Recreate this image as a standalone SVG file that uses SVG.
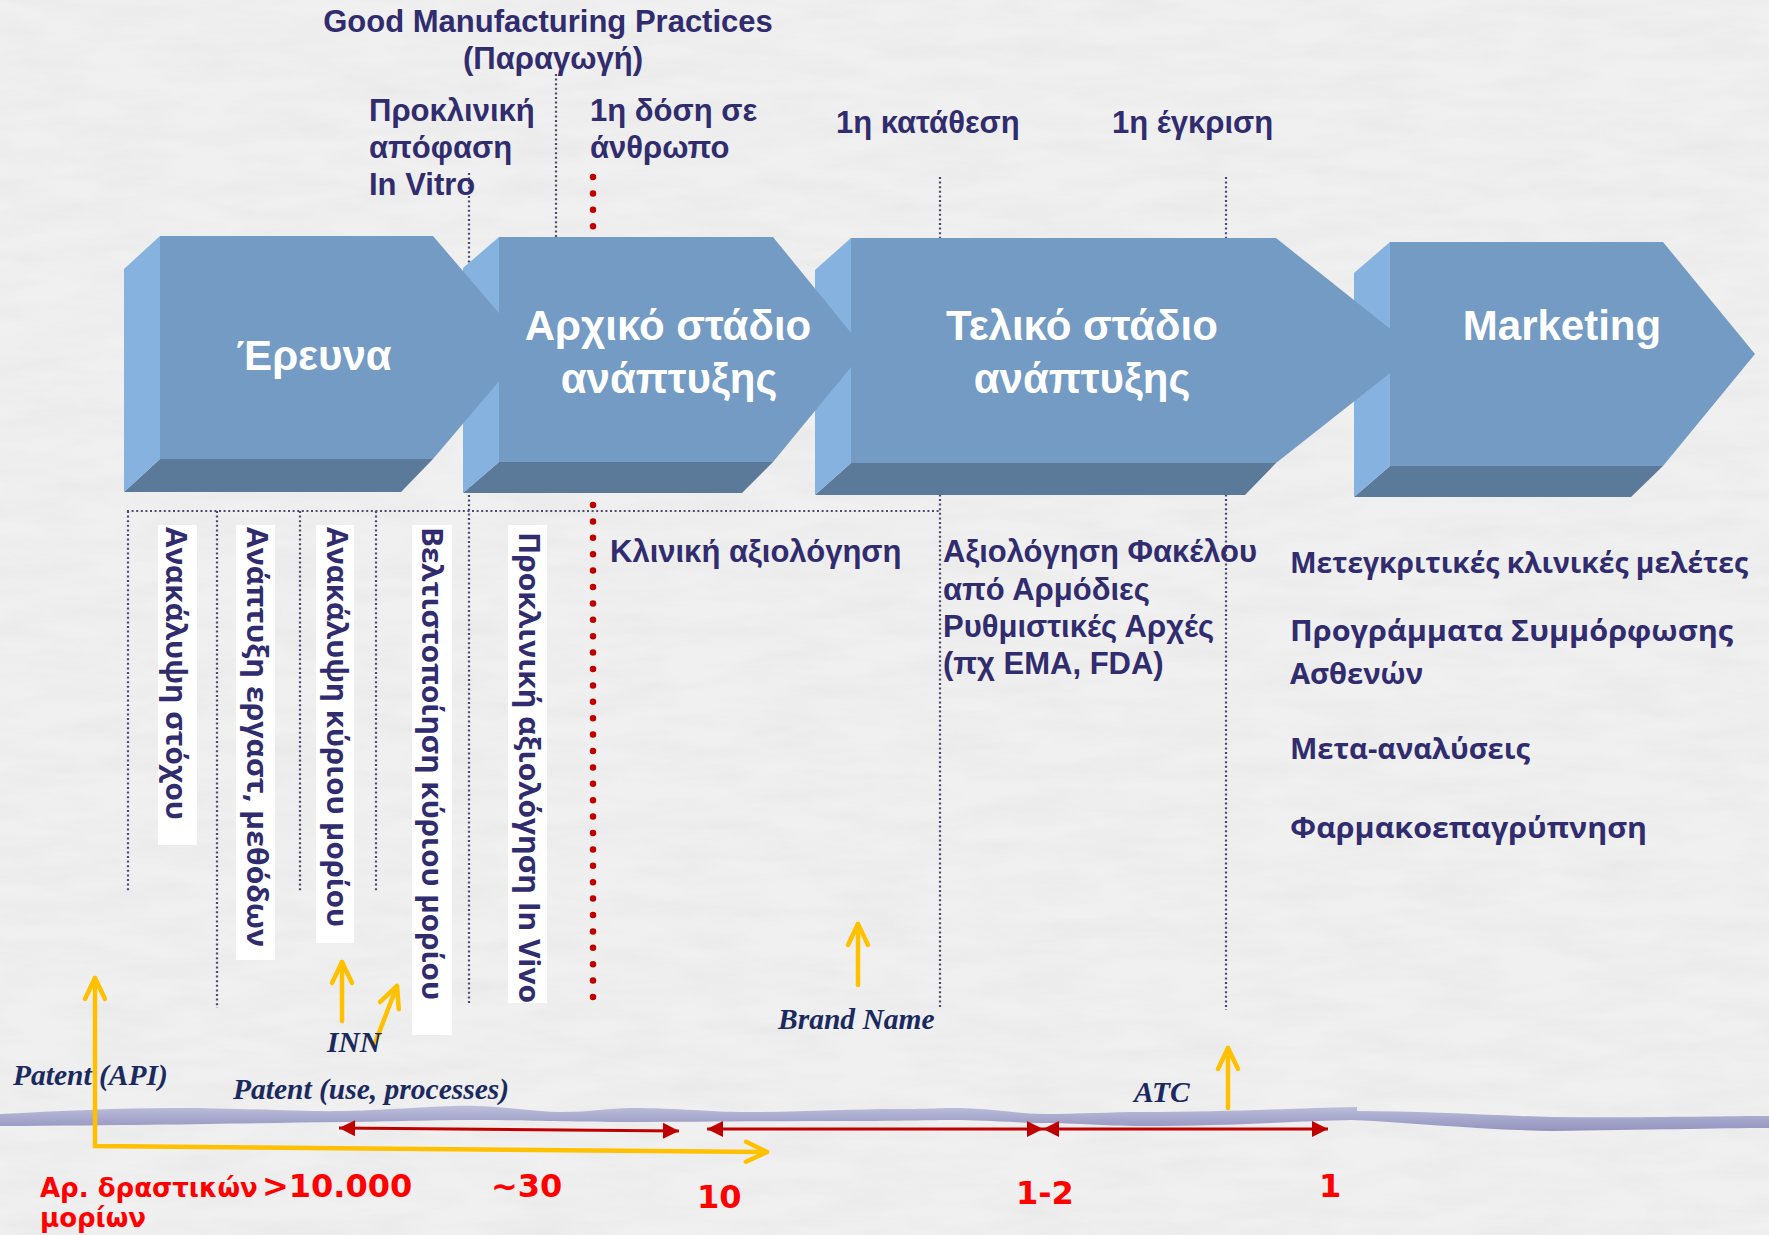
<svg xmlns="http://www.w3.org/2000/svg" width="1769" height="1235" viewBox="0 0 1769 1235">
  <defs>
    <style>
      .lbl { font-family: "Liberation Sans", Arial, sans-serif; font-weight: bold; font-size: 31px; fill: #302C6E; }
      .box { font-family: "Liberation Sans", Arial, sans-serif; font-weight: bold; font-size: 42px; fill: #FFFFFF; text-anchor: middle; }
      .tah { font-family: "Open Sans", "DejaVu Sans", sans-serif; font-weight: bold; font-size: 29px; fill: #302C6E; }
      .num { font-family: "DejaVu Sans", Verdana, sans-serif; font-weight: bold; fill: #FF0000; }
      .it { font-family: "Liberation Serif", "Times New Roman", serif; font-style: italic; font-weight: bold; font-size: 29.5px; fill: #1B2A5E; }
      .dot { stroke: #4B4B6E; stroke-width: 2.2; stroke-dasharray: 2 2.6; fill: none; }
      .face { fill: #739BC4; }
      .side { fill: #86B2E0; }
      .under { fill: #5B7999; }
      .ya { stroke: #FFC000; stroke-width: 4.5; fill: none; stroke-linecap: round; }
      .ra { stroke: #C00000; stroke-width: 3; fill: none; }
      .wbg { fill: #FFFFFF; }
    </style>
    <marker id="yhead" markerUnits="userSpaceOnUse" viewBox="-26 -15 30 30" markerWidth="30" markerHeight="30" refX="0" refY="0" orient="auto-start-reverse">
      <path d="M-21,-10 L0,0 L-21,10" stroke="#FFC000" stroke-width="4.5" fill="none" stroke-linecap="round" stroke-linejoin="round"/>
    </marker>
    <marker id="rhead" markerUnits="userSpaceOnUse" viewBox="-18 -10 20 20" markerWidth="20" markerHeight="20" refX="0" refY="0" orient="auto-start-reverse">
      <path d="M0,0 L-16,-8 L-16,8 Z" fill="#C00000"/>
    </marker>
    <linearGradient id="band" x1="0" y1="0" x2="0" y2="1">
      <stop offset="0" stop-color="#BEBEDC"/>
      <stop offset="1" stop-color="#9292BE"/>
    </linearGradient>
    <filter id="paper" x="0" y="0" width="100%" height="100%">
      <feTurbulence type="fractalNoise" baseFrequency="0.012 0.05" numOctaves="4" seed="7" result="n"/>
      <feColorMatrix in="n" type="matrix" values="0 0 0 0 0.7  0 0 0 0 0.7  0 0 0 0 0.7  0 0 0 0.5 -0.17"/>
    </filter>
  </defs>

  <g id="background">
    <rect x="0" y="0" width="1769" height="1235" fill="#F0F0F0"/>
    <rect x="0" y="0" width="1769" height="1235" filter="url(#paper)"/>
  </g>

  <g id="timeline-band">
    <path d="M0,1114 C60,1111 120,1108 172,1108 C250,1108 300,1112 344,1111 C400,1110 440,1105 476,1106 C510,1107 540,1112 563,1112 C590,1112 610,1108 631,1108 C680,1108 710,1112 746,1112 C800,1112 850,1109 900,1109 C930,1109 940,1108 953,1108 C990,1108 1020,1114 1043,1114 C1080,1114 1110,1112 1143,1112 C1230,1112 1300,1108 1357,1107 L1357,1111 C1420,1111 1480,1115 1553,1117 C1640,1118 1720,1116 1769,1116 L1769,1128 C1720,1128 1640,1130 1553,1131 C1480,1130 1420,1123 1352,1120 C1300,1121 1230,1126 1143,1126 C1100,1126 1080,1123 1043,1123 C1000,1122 980,1120 953,1120 C930,1120 900,1121 850,1121 C780,1121 700,1122 631,1122 C560,1122 520,1120 476,1120 C420,1120 380,1122 344,1122 C250,1123 180,1125 0,1126 Z" fill="url(#band)"/>
  </g>

  <g id="connectors">
    <line class="dot" x1="469" y1="173" x2="469" y2="1003"/>
    <line class="dot" x1="556" y1="74" x2="556" y2="241"/>
    <line class="dot" x1="940" y1="177" x2="940" y2="1008"/>
    <line class="dot" x1="1226" y1="177" x2="1226" y2="1010"/>
    <line class="dot" x1="127" y1="511" x2="940" y2="511"/>
    <line class="dot" x1="128" y1="511" x2="128" y2="892"/>
    <line class="dot" x1="217" y1="511" x2="217" y2="1008"/>
    <line class="dot" x1="300" y1="511" x2="300" y2="892"/>
    <line class="dot" x1="376" y1="511" x2="376" y2="892"/>
    <line x1="593" y1="177" x2="593" y2="1007" stroke="#C00000" stroke-width="6.5" stroke-linecap="round" stroke-dasharray="0 16.4"/>
  </g>

  <g id="stage-marketing">
    <polygon class="under" points="1390,466 1354,497 1631,497 1663,466"/>
    <polygon class="side" points="1390,242 1354,273 1354,497 1390,466"/>
    <polygon class="face" points="1390,242 1663,242 1755,354 1663,466 1390,466"/>
    <text class="box" x="1562" y="340">Marketing</text>
  </g>

  <g id="stage-late">
    <polygon class="under" points="851,463 815,495 1245,495 1276,463"/>
    <polygon class="side" points="851,238 815,270 815,495 851,463"/>
    <polygon class="face" points="851,238 1276,238 1418,351 1276,463 851,463"/>
    <text class="box" x="1082" y="340">Τελικό στάδιο</text>
    <text class="box" x="1082" y="393">ανάπτυξης</text>
  </g>

  <g id="stage-early">
    <polygon class="under" points="499,462 463,493 742,493 773,462"/>
    <polygon class="side" points="499,237 463,268 463,493 499,462"/>
    <polygon class="face" points="499,237 773,237 865,350 773,462 499,462"/>
    <text class="box" x="668" y="340">Αρχικό στάδιο</text>
    <text class="box" x="669" y="393">ανάπτυξης</text>
  </g>

  <g id="stage-research">
    <polygon class="under" points="160,459 124,492 401,492 433,459"/>
    <polygon class="side" points="160,236 124,269 124,492 160,459"/>
    <polygon class="face" points="160,236 433,236 528,347 433,459 160,459"/>
    <text class="box" x="314" y="370">Έρευνα</text>
  </g>

  <g id="milestone-gmp">
    <text class="lbl" x="548" y="32" text-anchor="middle" font-size="31.5">Good Manufacturing Practices</text>
    <text class="lbl" x="553" y="69" text-anchor="middle" font-size="31.5">(Παραγωγή)</text>
  </g>
  <g id="milestone-preclinical">
    <text class="lbl" x="369" y="121">Προκλινική</text>
    <text class="lbl" x="369" y="158">απόφαση</text>
    <text class="lbl" x="369" y="195">In Vitro</text>
  </g>
  <g id="milestone-first-dose">
    <text class="lbl" x="590" y="121">1η δόση σε</text>
    <text class="lbl" x="590" y="158">άνθρωπο</text>
  </g>
  <g id="milestone-submission">
    <text class="lbl" x="836" y="133">1η κατάθεση</text>
  </g>
  <g id="milestone-approval">
    <text class="lbl" x="1112" y="133">1η έγκριση</text>
  </g>

  <g id="research-steps">
    <rect class="wbg" x="158" y="525" width="39" height="320"/>
    <rect class="wbg" x="236" y="525" width="39" height="435"/>
    <rect class="wbg" x="316" y="525" width="38" height="418"/>
    <rect class="wbg" x="412" y="525" width="40" height="510"/>
    <rect class="wbg" x="508" y="525" width="39" height="478"/>
    <text class="tah" transform="translate(166,527) rotate(90)" textLength="293" lengthAdjust="spacingAndGlyphs">Ανακάλυψη στόχου</text>
    <text class="tah" transform="translate(247,527) rotate(90)" textLength="420" lengthAdjust="spacingAndGlyphs">Ανάπτυξη εργαστ, μεθόδων</text>
    <text class="tah" transform="translate(327,527) rotate(90)" textLength="400" lengthAdjust="spacingAndGlyphs">Ανακάλυψη κύριου μορίου</text>
    <text class="tah" transform="translate(422,527) rotate(90)" textLength="473" lengthAdjust="spacingAndGlyphs">Βελτιστοποίηση κύριου μορίου</text>
    <text class="tah" transform="translate(519,532) rotate(90)" textLength="471" lengthAdjust="spacingAndGlyphs">Προκλινική αξιολόγηση In Vivo</text>
  </g>

  <g id="clinical-evaluation">
    <text class="lbl" x="610" y="562">Κλινική αξιολόγηση</text>
  </g>

  <g id="regulatory-evaluation">
    <text class="lbl" x="943" y="562" font-size="30">Αξιολόγηση Φακέλου</text>
    <text class="lbl" x="943" y="600" font-size="30">από Αρμόδιες</text>
    <text class="lbl" x="943" y="637" font-size="30">Ρυθμιστικές Αρχές</text>
    <text class="lbl" x="943" y="674" font-size="30">(πχ EMA, FDA)</text>
  </g>

  <g id="post-marketing">
    <text class="tah" x="1290" y="573" textLength="458" lengthAdjust="spacingAndGlyphs">Μετεγκριτικές κλινικές μελέτες</text>
    <text class="tah" x="1290" y="641" textLength="443" lengthAdjust="spacingAndGlyphs">Προγράμματα Συμμόρφωσης</text>
    <text class="tah" x="1290" y="684" textLength="133" lengthAdjust="spacingAndGlyphs">Ασθενών</text>
    <text class="tah" x="1290" y="759" textLength="240" lengthAdjust="spacingAndGlyphs">Μετα-αναλύσεις</text>
    <text class="tah" x="1290" y="838" textLength="357" lengthAdjust="spacingAndGlyphs">Φαρμακοεπαγρύπνηση</text>
  </g>

  <g id="arrows">
    <path class="ya" d="M95,978 L95,1146 L767,1152" marker-start="url(#yhead)" marker-end="url(#yhead)"/>
    <path class="ya" d="M342,1021 L342,962" marker-end="url(#yhead)"/>
    <path class="ya" d="M375,1043 L397,986" marker-end="url(#yhead)"/>
    <path class="ya" d="M858,985 L858,924" marker-end="url(#yhead)"/>
    <path class="ya" d="M1228,1108 L1228,1048" marker-end="url(#yhead)"/>
    <path class="ra" d="M339,1128 L679,1131" marker-start="url(#rhead)" marker-end="url(#rhead)"/>
    <path class="ra" d="M707,1129 L1043,1129" marker-start="url(#rhead)" marker-end="url(#rhead)"/>
    <path class="ra" d="M1043,1129 L1328,1129" marker-start="url(#rhead)" marker-end="url(#rhead)"/>
  </g>

  <g id="identifiers">
    <text class="it" x="13" y="1085">Patent (API)</text>
    <text class="it" x="327" y="1052">INN</text>
    <text class="it" x="233" y="1099">Patent (use, processes)</text>
    <text class="it" x="778" y="1029">Brand Name</text>
    <text class="it" x="1134" y="1102">ATC</text>
  </g>

  <g id="molecule-counts">
    <text class="num" x="40" y="1197" font-size="26">Αρ. δραστικών</text>
    <text class="num" x="40" y="1227" font-size="26">μορίων</text>
    <text class="num" x="262" y="1197" font-size="32">&gt;10.000</text>
    <text class="num" x="491" y="1197" font-size="32">~30</text>
    <text class="num" x="697" y="1208" font-size="32">10</text>
    <text class="num" x="1016" y="1204" font-size="32">1-2</text>
    <text class="num" x="1319" y="1197" font-size="32">1</text>
  </g>
</svg>
